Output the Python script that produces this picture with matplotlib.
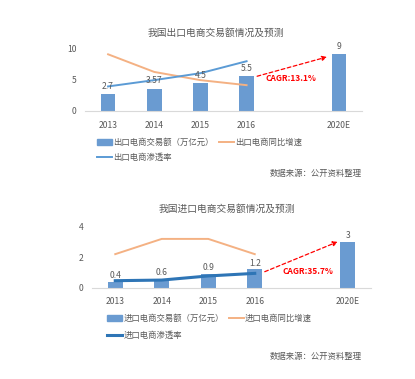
import matplotlib
matplotlib.use("Agg")
import matplotlib.pyplot as plt
from matplotlib.patches import Patch
from matplotlib.lines import Line2D

plt.rcParams['font.family'] = ['Noto Sans CJK SC', 'DejaVu Sans']

years = ['2013', '2014', '2015', '2016', '', '2020E']
hist_x = [0, 1, 2, 3]

# export panel
exp_bars = [2.7, 3.57, 4.5, 5.5, 9]
exp_labels = ['2.7', '3.57', '4.5', '5.5', '9']
exp_growth = [9.0, 6.2, 4.9, 4.1]
exp_pen = [3.9, 4.9, 6.0, 7.9]
exp_cagr = 'CAGR:13.1%'

# import panel
imp_bars = [0.4, 0.6, 0.9, 1.2, 3]
imp_labels = ['0.4', '0.6', '0.9', '1.2', '3']
imp_growth = [2.2, 3.2, 3.2, 2.2]
imp_pen = [0.46, 0.5, 0.77, 0.94]
imp_cagr = 'CAGR:35.7%'

W, H = 415, 379
GRAY = '#595959'
BAR = '#6A9BD1'
ORANGE = '#F4B183'
RED = '#FF0000'


def px(x0, y0, x1, y1):
    # pixel box (top-left origin) -> figure rect
    return [x0 / W, 1 - y1 / H, (x1 - x0) / W, (y1 - y0) / H]


fig = plt.figure(figsize=(W / 100, H / 100), dpi=100)
fig.patch.set_facecolor('white')


def panel(rect, ylim, yticks, bars, labels, growth, pen, pen_color, pen_lw,
          title, prefix, title_y, arrow, cagr_xy, cagr, leg_y, leg_x, src_y,
          lab_off, lab_space):
    ax = fig.add_axes(px(*rect))
    bx = [0, 1, 2, 3, 5]
    ax.bar(bx, bars, width=0.32, color=BAR, zorder=2)
    ax.plot(hist_x, growth, color=ORANGE, lw=1.4, zorder=3)
    ax.plot(hist_x, pen, color=pen_color, lw=pen_lw, zorder=3)
    for x, v, s in zip(bx, bars, labels):
        ax.text(x, v + lab_off, s, ha='center', va='bottom', fontsize=6.2,
                color=GRAY, zorder=4)
    ax.annotate('', xy=arrow[1], xytext=arrow[0],
                arrowprops=dict(arrowstyle='-|>', color=RED, lw=0.9,
                                ls=(0, (3, 2)), mutation_scale=7))
    ax.text(cagr_xy[0], cagr_xy[1], cagr, color=RED, fontsize=6,
            fontweight='bold', ha='center', va='center')
    ax.set_xlim(-0.5, 5.5)
    ax.set_ylim(*ylim)
    ax.set_yticks(yticks)
    ax.set_xticks(range(6))
    ax.set_xticklabels(years)
    ax.tick_params(length=0, labelsize=6.2, labelcolor=GRAY, pad=7)
    ax.tick_params(axis='y', pad=6)
    for s in ['top', 'right', 'left']:
        ax.spines[s].set_visible(False)
    ax.spines['bottom'].set_color('#D9D9D9')
    ax.spines['bottom'].set_linewidth(0.8)

    fig.text(title[1] / W, 1 - title_y / H, title[0], ha='center',
             va='center', fontsize=7, color=GRAY)
    handles = [Patch(color=BAR),
               Line2D([], [], color=pen_color, lw=pen_lw),
               Line2D([], [], color=ORANGE, lw=1.4)]
    names = [prefix + '电商交易额（万亿元）', prefix + '电商渗透率',
             prefix + '电商同比增速']
    fig.legend(handles, names, ncol=2, loc='upper left',
               bbox_to_anchor=(leg_x / W, 1 - leg_y / H), frameon=False,
               fontsize=6, labelcolor=GRAY, handlelength=1.8,
               handleheight=0.7, handletextpad=0.15, columnspacing=0.6,
               labelspacing=lab_space, borderaxespad=0, borderpad=0)
    fig.text(362 / W, 1 - src_y / H, '数据来源：公开资料整理', ha='right',
             va='center', fontsize=6, color=GRAY)
    return ax


panel((85, 48, 362, 111), (0, 10), [0, 5, 10], exp_bars, exp_labels,
      exp_growth, exp_pen, '#5B9BD5', 1.4,
      ('我国出口电商交易额情况及预测', 216), '出口', 33,
      ((3.17, 5.4), (4.8, 8.7)), (3.97, 5.1), exp_cagr, 138, 97, 173,
      0.5, 0.75)

panel((92, 226.7, 371, 287.7), (0, 4), [0, 2, 4], imp_bars, imp_labels,
      imp_growth, imp_pen, '#2E75B6', 2.2,
      ('我国进口电商交易额情况及预测', 227), '进口', 209,
      ((3.16, 0.98), (4.84, 3.08)), (4.15, 1.05), imp_cagr, 314, 107, 356,
      0.1, 0.95)

fig.savefig('out.png', dpi=100)
